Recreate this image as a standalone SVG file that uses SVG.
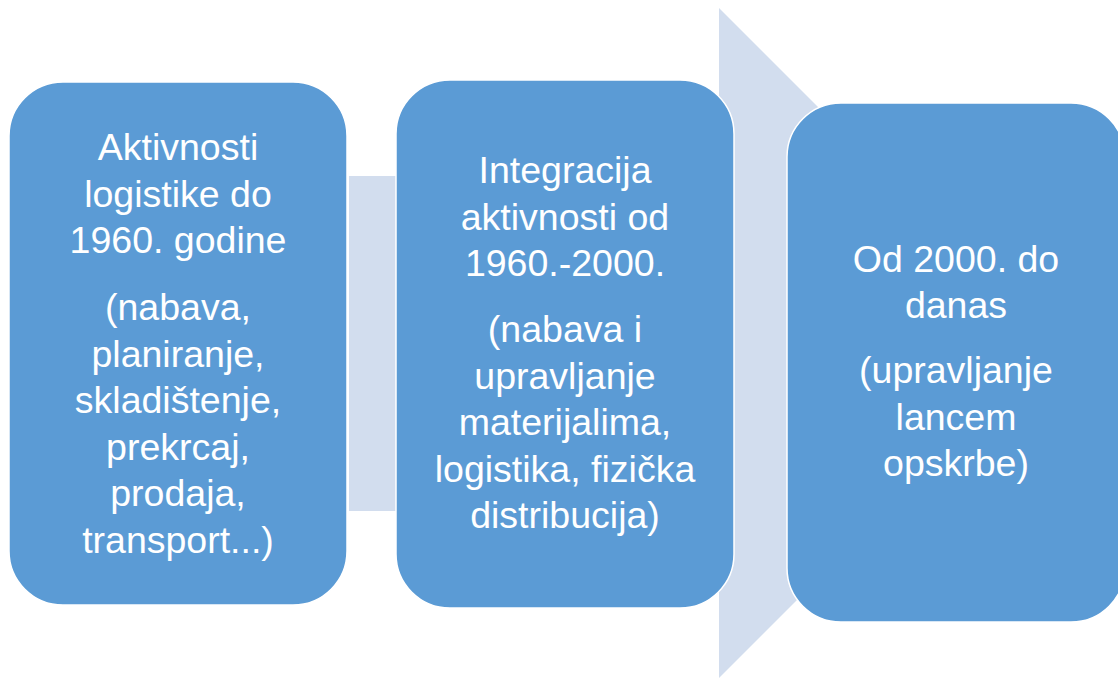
<svg xmlns="http://www.w3.org/2000/svg" width="1118" height="679" viewBox="0 0 1118 679">
<style>
.box{fill:#5B9BD5;stroke:#FFFFFF;stroke-width:1.5}
.t{font-family:"Liberation Sans",Arial,sans-serif;font-size:37.5px;fill:#FFFFFF;text-anchor:middle}
.arrow{fill:#D2DDEE}
</style>
<rect width="1118" height="679" fill="#FFFFFF"/>
<g id="connectors">
<polygon class="arrow" points="349,176 719,176 719,8 1054,343 719,678 719,511 349,511"/>
</g>
<g id="node1">
<rect class="box" x="9" y="82" width="338" height="523" rx="54" ry="54"/>
<text class="t"><tspan x="178" y="160">Aktivnosti</tspan><tspan x="178" y="207">logistike do</tspan><tspan x="178" y="253">1960. godine</tspan><tspan x="178" y="320">(nabava,</tspan><tspan x="178" y="366.5">planiranje,</tspan><tspan x="178" y="413">skladištenje,</tspan><tspan x="178" y="459.5">prekrcaj,</tspan><tspan x="178" y="506">prodaja,</tspan><tspan x="178" y="552.5">transport...)</tspan></text>
</g>
<g id="node2">
<rect class="box" x="396" y="80" width="338" height="528" rx="54" ry="54"/>
<text class="t"><tspan x="565" y="183">Integracija</tspan><tspan x="565" y="230">aktivnosti od</tspan><tspan x="565" y="276">1960.-2000.</tspan><tspan x="565" y="342">(nabava i</tspan><tspan x="565" y="388.5">upravljanje</tspan><tspan x="565" y="435">materijalima,</tspan><tspan x="565" y="481.5">logistika, fizička</tspan><tspan x="565" y="528">distribucija)</tspan></text>
</g>
<g id="node3">
<rect class="box" x="787" y="103" width="338" height="519" rx="54" ry="54"/>
<text class="t"><tspan x="956" y="272">Od 2000. do</tspan><tspan x="956" y="318">danas</tspan><tspan x="956" y="383">(upravljanje</tspan><tspan x="956" y="429.5">lancem</tspan><tspan x="956" y="476">opskrbe)</tspan></text>
</g>
</svg>
